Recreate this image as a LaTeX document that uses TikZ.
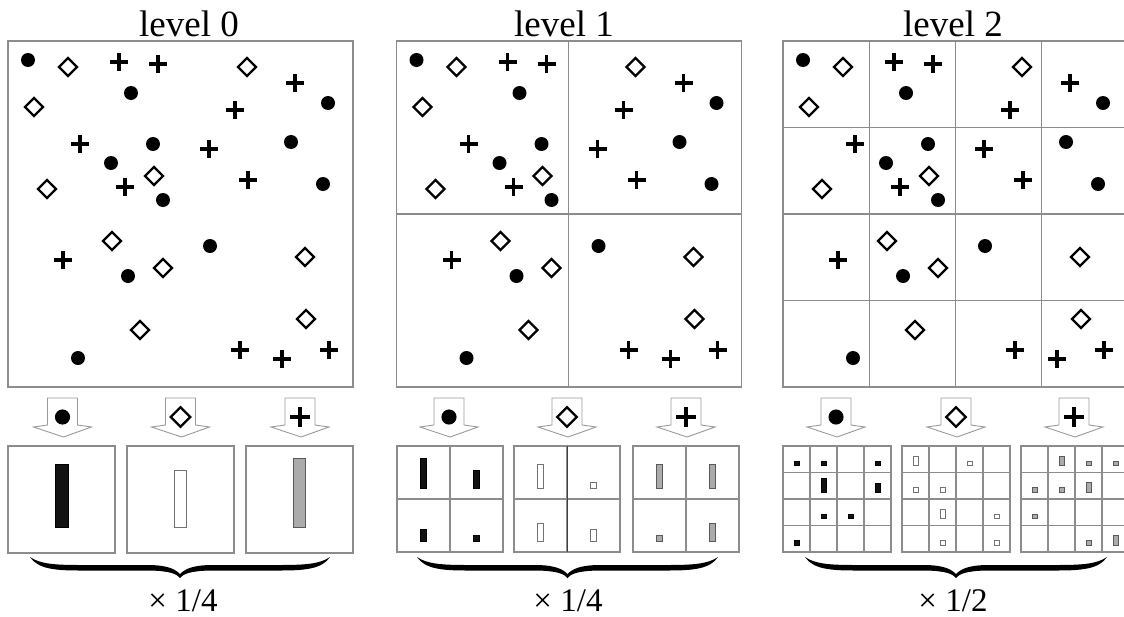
\documentclass[tikz,border=0pt]{standalone}
\usepackage{fontspec}
\setmainfont{Liberation Serif}
\tikzset{
 frame/.style={draw=black!45, line width=1.1pt},
 dotsym/.pic={\fill (0,0) circle (7pt);},
 diasym/.pic={\draw[line width=2.3pt, line join=miter] (-9pt,0)--(0,9pt)--(9pt,0)--(0,-9pt)--cycle;},
 crosssym/.pic={\draw[line width=3.4pt] (-9pt,0)--(9pt,0) (0,-9pt)--(0,9pt);},
 cbar/.style={fill=black!93, draw=black, line width=0.5pt},
 dbar/.style={fill=white, draw=black!55, line width=0.8pt},
 xbar/.style={fill=black!33, draw=black!65, line width=0.8pt},
 blockarrow/.style={draw=black!40, fill=white, line width=0.9pt, line join=miter},
 title/.style={font=\fontsize{37}{40}\selectfont, anchor=base, inner sep=0pt},
 lab/.style={font=\fontsize{33}{36}\selectfont, anchor=base, inner sep=0pt},
}
\newcommand\histgrid[7]{%
 \draw[frame] (#1,#2) rectangle (#1+#3,#2+#4);
 \ifnum#5>1
 \foreach \i in {2,...,#5} {
   \draw[frame] ({#1+(\i-1)*#3/#5},#2) -- ({#1+(\i-1)*#3/#5},#2+#4);
   \draw[frame] (#1,{#2+(\i-1)*#4/#5}) -- (#1+#3,{#2+(\i-1)*#4/#5});
 }
 \fi
 \foreach \c/\r/\k in {#7} {
   \filldraw[#6] ({#1+(\c+0.5)*#3/#5-\bw/2},{#2+(\r+1)*#4/#5-\bmarg}) rectangle ++(\bw,{-\k*\bu});
 }
}
\newcommand\blockarr[2]{%
 \draw[blockarrow] (#1-15,398) -- (#1+15,398) -- (#1+15,425) -- (#1+29,427) -- (#1+1,437) -- (#1-29,427) -- (#1-15,425) -- cycle;
 \pic[scale=1.08] at (#1,417) {#2};
}
\newcommand\cbrace[3]{%
 \pgfmathsetmacro\bmid{(#1+#2)/2}
 \fill (#1,#3) .. controls (#1+8,#3+12) and (#1+25,#3+13.5) .. (#1+50,#3+13.5)
   -- (\bmid-30,#3+13.5) .. controls (\bmid-10,#3+14) and (\bmid-3,#3+17) .. (\bmid,#3+21)
   .. controls (\bmid+3,#3+17) and (\bmid+10,#3+14) .. (\bmid+30,#3+13.5)
   -- (#2-50,#3+13.5) .. controls (#2-25,#3+13.5) and (#2-8,#3+12) .. (#2,#3)
   .. controls (#2-10,#3+7) and (#2-25,#3+8) .. (#2-50,#3+8)
   -- (\bmid+30,#3+8) .. controls (\bmid+12,#3+8.5) and (\bmid+5,#3+12) .. (\bmid,#3+17)
   .. controls (\bmid-5,#3+12) and (\bmid-12,#3+8.5) .. (\bmid-30,#3+8)
   -- (#1+50,#3+8) .. controls (#1+25,#3+8) and (#1+10,#3+7) .. (#1,#3) -- cycle;
}
\begin{document}
\begin{tikzpicture}[x=1pt,y=-1pt]
\useasboundingbox (0,0) rectangle (1124,616);
\fill[white] (0,0) rectangle (1124,616);
% titles
\node[title] (t0) at (189,36) {level 0};
\node[title] (t1) at (564,36) {level 1};
\node[title] (t2) at (953,36) {level 2};
% big boxes
\foreach \dx in {0,388.5,775} { \draw[frame] (8+\dx,41) rectangle (353+\dx,387); }
\draw[frame] (568.5,41) -- (568.5,387) (396.5,214) -- (741.5,214);
\foreach \i in {1,2,3} {
  \draw[frame] ({783+86.25*\i},41) -- ({783+86.25*\i},387);
  \draw[frame] (783,{41+86.5*\i}) -- (1130,{41+86.5*\i});
}
% points
\foreach \dx in {0,388.5,775} {
  \foreach \x/\y in {28/60,131/93,328/103,153/144,291/142,111/163,323/184,163/200,210/246,128/276,78/358}
    \pic at (\x+\dx,\y) {dotsym};
  \foreach \x/\y in {68/67,247/67,34/107,154/176,47/189,112/241,163/268,305/257,306/319,140/330}
    \pic at (\x+\dx,\y) {diasym};
  \foreach \x/\y in {119/62,158/64,295/83,235/110,80/144,209/149,125/187,248/180,63/260,240/350,282/359,329/350}
    \pic at (\x+\dx,\y) {crosssym};
}
% arrows
\foreach \cx/\s in {62.5/dotsym,180.5/diasym,300/crosssym,449/dotsym,567/diasym,686/crosssym,836/dotsym,956/diasym,1074/crosssym}
  {\blockarr{\cx}{\s}}
% level 0 histograms
\def\bw{12.5}\def\bu{5.7}\def\bmarg{26}
\histgrid{8}{446}{107}{107}{1}{cbar}{0/0/11}
\histgrid{127}{446}{107}{107}{1}{dbar}{0/0/10}
\histgrid{246}{446}{107}{107}{1}{xbar}{0/0/12}
% level 1 histograms
\def\bw{6}\def\bu{6}\def\bmarg{10.5}
\histgrid{397}{446}{106}{106}{2}{cbar}{0/0/5,1/0/3,0/1/2,1/1/1}
\histgrid{514}{446}{106}{106}{2}{dbar}{0/0/4,1/0/1,0/1/3,1/1/2}
\histgrid{633}{446}{106}{106}{2}{xbar}{0/0/4,1/0/4,0/1/1,1/1/3}
\draw[black!75, line width=1pt] (567,446) -- (567,552);
% level 2 histograms
\def\bw{4.8}\def\bu{4.6}\def\bmarg{7}
\histgrid{783}{446}{108}{106}{4}{cbar}{0/0/1,1/0/1,3/0/1,1/1/3,3/1/2,1/2/1,2/2/1,0/3/1}
\histgrid{902}{446}{108}{106}{4}{dbar}{0/0/2,2/0/1,0/1/1,1/1/1,1/2/2,3/2/1,1/3/1,3/3/1}
\histgrid{1021}{446}{108}{106}{4}{xbar}{1/0/2,2/0/1,3/0/1,0/1/1,1/1/1,2/1/2,0/2/1,2/3/1,3/3/2}
% braces
\cbrace{30}{330}{557}
\cbrace{417}{718}{557}
\cbrace{805}{1107}{557}
% labels
\node[lab] (w0) at (183,611) {× 1/4};
\node[lab] (w1) at (568,611) {× 1/4};
\node[lab] (w2) at (953,611) {× 1/2};
\end{tikzpicture}
\end{document}
